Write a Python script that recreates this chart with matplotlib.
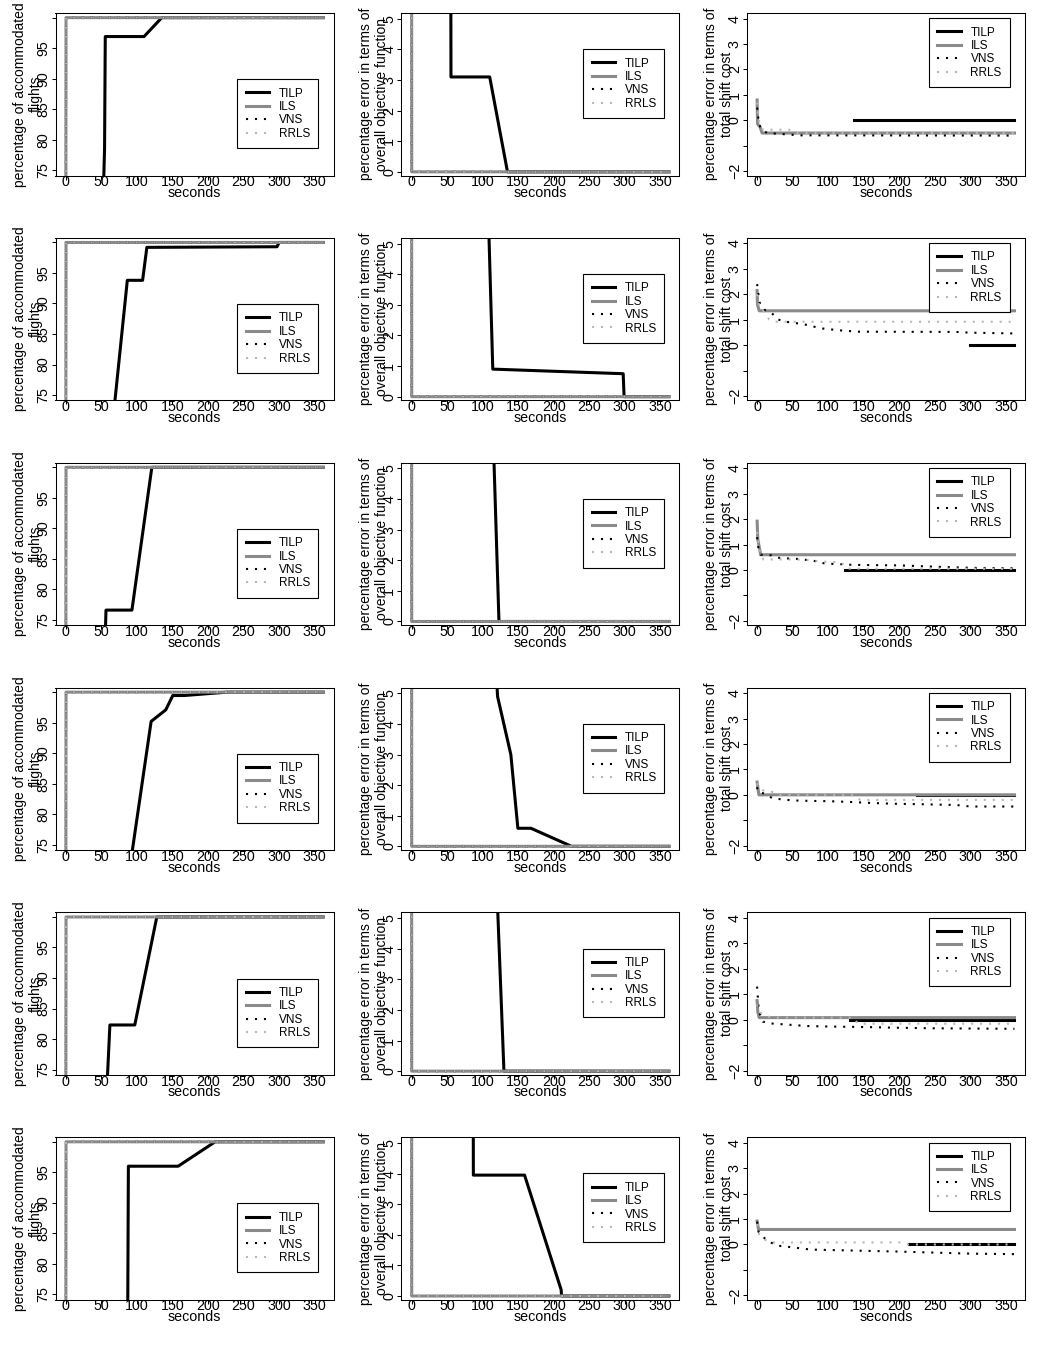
import matplotlib
matplotlib.use('Agg')
import matplotlib.pyplot as plt
from matplotlib.lines import Line2D

plt.rcParams['font.family'] = ['Liberation Sans', 'DejaVu Sans']

# ---------------- data ----------------
methods = ['TILP', 'ILS', 'VNS', 'RRLS']
xticks = [0, 50, 100, 150, 200, 250, 300, 350]

# Column 1: percentage of accommodated flights
acc_yticks = [75, 80, 85, 90, 95, 100]
acc_ytick_labels = ['75', '80', '85', '90', '95', '']
acc_tilp_t = [
    [52.5, 54.5, 55.5, 110, 135, 362],
    [65.5, 86.5, 108, 114, 297, 300, 362],
    [55, 56.5, 93, 121, 362],
    [91, 120, 140.6, 150.5, 167, 227, 362],
    [57, 62, 97, 128, 362],
    [87, 88, 158, 210, 362],
]
acc_tilp_v = [
    [70, 78.5, 96.9, 96.9, 100, 100],
    [70, 93.8, 93.8, 99.2, 99.3, 100, 100],
    [70, 76.6, 76.6, 100, 100],
    [72, 95.2, 97.1, 99.45, 99.45, 100, 100],
    [70, 82.3, 82.3, 100, 100],
    [70, 96, 96, 100, 100],
]
acc_heur_t = [0, 0.3, 362]
acc_ils_v = [60, 100, 100]
acc_vns_v = [60, 100, 100]
acc_rrls_v = [60, 100, 100]

# Column 2: percentage error in terms of overall objective function
obj_yticks = [0, 1, 2, 3, 4, 5]
obj_tilp_t = [
    [55, 55.5, 110, 135, 362],
    [108.5, 114.3, 297.7, 299, 362],
    [115.5, 123, 362],
    [119.5, 121, 139.7, 149.6, 168, 225, 362],
    [120, 130, 362],
    [86.5, 87, 159, 210.5, 211, 362],
]
obj_tilp_v = [
    [10, 3.1, 3.1, 0, 0],
    [5.6, 0.9, 0.75, 0, 0],
    [5.6, 0, 0],
    [5.6, 4.9, 3.0, 0.59, 0.59, 0, 0],
    [6, 0, 0],
    [10, 3.95, 3.95, 0.2, 0, 0],
]
obj_heur_t = [0, 0.3, 362]
obj_ils_v = [20, 0, 0]
obj_vns_v = [20, 0, 0]
obj_rrls_v = [20, 0, 0]

# Column 3: percentage error in terms of total shift cost
sc_yticks = [-2, -1, 0, 1, 2, 3, 4]
sc_ytick_labels = ['\u22122', '', '0', '1', '2', '3', '4']
sc_tilp_t = [[136, 362], [300, 362], [124, 362], [225, 362], [131, 362], [213, 362]]
sc_tilp_v = [[0, 0], [0, 0], [0, 0], [0, 0], [0, 0], [0, 0]]
sc_ils_t = [
    [0, 0.7, 4, 7, 362],
    [0, 0.5, 3, 362],
    [0, 1, 5, 362],
    [0, 2.5, 362],
    [0, 1, 3, 362],
    [0, 2, 362],
]
sc_ils_v = [
    [0.8, -0.15, -0.25, -0.5, -0.5],
    [2.15, 1.6, 1.35, 1.35],
    [1.92, 1.2, 0.6, 0.6],
    [0.5, 0.0, 0.0],
    [0.75, 0.3, 0.08, 0.08],
    [0.92, 0.59, 0.59],
]
sc_vns_t = [
    [0, 2, 5, 14, 30, 60, 362],
    [0, 2, 4, 11, 21, 29, 41, 66, 90, 117, 142, 280, 300, 362],
    [0, 1.4, 5, 19, 32, 60, 84, 97, 110, 135, 200, 260, 310, 362],
    [0, 1, 10, 22, 35, 50, 75, 100, 130, 160, 190, 230, 280, 300, 362],
    [0, 1, 2, 5, 8, 20, 35, 70, 100, 150, 200, 250, 362],
    [0, 2, 8, 18, 30, 55, 75, 200, 300, 362],
]
sc_vns_v = [
    [0.5, 0.0, -0.33, -0.5, -0.53, -0.59, -0.6],
    [2.4, 1.97, 1.62, 1.38, 1.25, 1.01, 0.92, 0.82, 0.66, 0.58, 0.53, 0.52, 0.49, 0.46],
    [1.29, 0.93, 0.6, 0.58, 0.47, 0.43, 0.34, 0.24, 0.24, 0.2, 0.18, 0.12, 0.08, 0.07],
    [0.3, 0.12, 0.05, -0.14, -0.18, -0.22, -0.24, -0.25, -0.28, -0.32, -0.35, -0.37, -0.4, -0.46, -0.46],
    [1.3, 0.9, 0.5, 0.1, -0.08, -0.15, -0.18, -0.25, -0.27, -0.29, -0.32, -0.34, -0.36],
    [0.9, 0.5, 0.3, 0.09, -0.05, -0.13, -0.2, -0.28, -0.36, -0.38],
]
sc_rrls_t = [
    [0, 3, 8, 45, 55, 362],
    [0, 3, 10, 17, 25, 362],
    [0, 3, 9, 40, 70, 90, 118, 128, 362],
    [0, 3, 10, 25, 32, 135, 145, 362],
    [0, 3, 10, 20, 135, 142, 362],
    [0, 3, 10, 20, 205, 212, 362],
]
sc_rrls_v = [
    [0.7, -0.1, -0.37, -0.37, -0.5, -0.5],
    [2.0, 1.5, 1.3, 1.01, 0.92, 0.92],
    [1.5, 0.8, 0.41, 0.42, 0.4, 0.33, 0.3, 0.05, 0.05],
    [0.45, 0.25, 0.16, 0.1, 0.0, 0.0, -0.2, -0.2],
    [0.6, 0.3, 0.18, 0.08, 0.08, -0.16, -0.16],
    [0.8, 0.4, 0.2, 0.08, 0.08, 0.0, 0.0],
]

ylabels = ['percentage of accommodated\nflights',
           'percentage error in terms of\noverall objective function',
           'percentage error in terms of\ntotal shift cost']

# ---------------- styles ----------------
styles = {
    'TILP': dict(color='black', lw=2.2, ls='-'),
    'ILS': dict(color='#8a8a8a', lw=2.2, ls='-'),
    'VNS': dict(color='black', lw=1.5, ls=(0, (1.0, 3.3))),
    'RRLS': dict(color='#b8b8b8', lw=1.5, ls=(0, (1.0, 3.3))),
}

W, H = 1037, 1349
fig = plt.figure(figsize=(W / 100, H / 100), dpi=100)

col_left = [55.5, 401.2, 746.8]
ax_w = 278.0
ax_h = 162.5
row_pitch = H / 6.0
top_off = 13.0
ylims = [(74.13, 100.76), (-0.12, 5.19), (-2.17, 4.22)]
leg_anchor = [(0.654, 0.592), (0.655, 0.777), (0.656, 0.967)]


def style_axes(ax, col):
    ax.set_xlim(-14.5, 376.5)
    ax.set_ylim(*ylims[col])
    ax.set_xticks(xticks)
    ax.set_xticklabels([str(x) for x in xticks])
    if col == 0:
        ax.set_yticks(acc_yticks)
        ax.set_yticklabels(acc_ytick_labels)
    elif col == 1:
        ax.set_yticks(obj_yticks)
        ax.set_yticklabels([str(v) for v in obj_yticks])
    else:
        ax.set_yticks(sc_yticks)
        ax.set_yticklabels(sc_ytick_labels)
    ax.tick_params(axis='x', length=3, width=0.75, pad=-3.2, labelsize=10.3)
    ax.tick_params(axis='y', length=3, width=0.75, pad=0.6, labelsize=10.3, labelrotation=90)
    for lab in ax.get_yticklabels():
        lab.set_va('center')
    for sp in ax.spines.values():
        sp.set_linewidth(0.75)
    ax.text(-0.099, 0.5, ylabels[col], transform=ax.transAxes, rotation=90,
            ha='center', va='center', multialignment='center', fontsize=10,
            linespacing=1.15)
    ax.text(0.5, -0.108, 'seconds', transform=ax.transAxes, ha='center',
            va='center', fontsize=10.3)
    handles = [Line2D([], [], **styles[m]) for m in methods]
    leg = ax.legend(handles, methods, loc='upper left', bbox_to_anchor=leg_anchor[col],
                    borderaxespad=0, frameon=True, fancybox=False, framealpha=1,
                    edgecolor='black', fontsize=8.5, handlelength=2.0,
                    handletextpad=0.8, labelspacing=0.12, borderpad=0.7)
    leg.get_frame().set_linewidth(0.8)


for r in range(6):
    for c in range(3):
        left = col_left[c]
        bottom = H - (r * row_pitch + top_off + ax_h)
        ax = fig.add_axes([left / W, bottom / H, ax_w / W, ax_h / H])
        if c == 0:
            ax.plot(acc_tilp_t[r], acc_tilp_v[r], **styles['TILP'])
            ax.plot(acc_heur_t, acc_ils_v, **styles['ILS'])
            ax.plot(acc_heur_t, acc_vns_v, **styles['VNS'])
            ax.plot(acc_heur_t, acc_rrls_v, **styles['RRLS'])
        elif c == 1:
            ax.plot(obj_tilp_t[r], obj_tilp_v[r], **styles['TILP'])
            ax.plot(obj_heur_t, obj_ils_v, **styles['ILS'])
            ax.plot(obj_heur_t, obj_vns_v, **styles['VNS'])
            ax.plot(obj_heur_t, obj_rrls_v, **styles['RRLS'])
        else:
            ax.plot(sc_tilp_t[r], sc_tilp_v[r], **styles['TILP'])
            ax.plot(sc_ils_t[r], sc_ils_v[r], **styles['ILS'])
            ax.plot(sc_vns_t[r], sc_vns_v[r], **styles['VNS'])
            ax.plot(sc_rrls_t[r], sc_rrls_v[r], **styles['RRLS'])
        style_axes(ax, c)

fig.savefig('out.png', dpi=100)
